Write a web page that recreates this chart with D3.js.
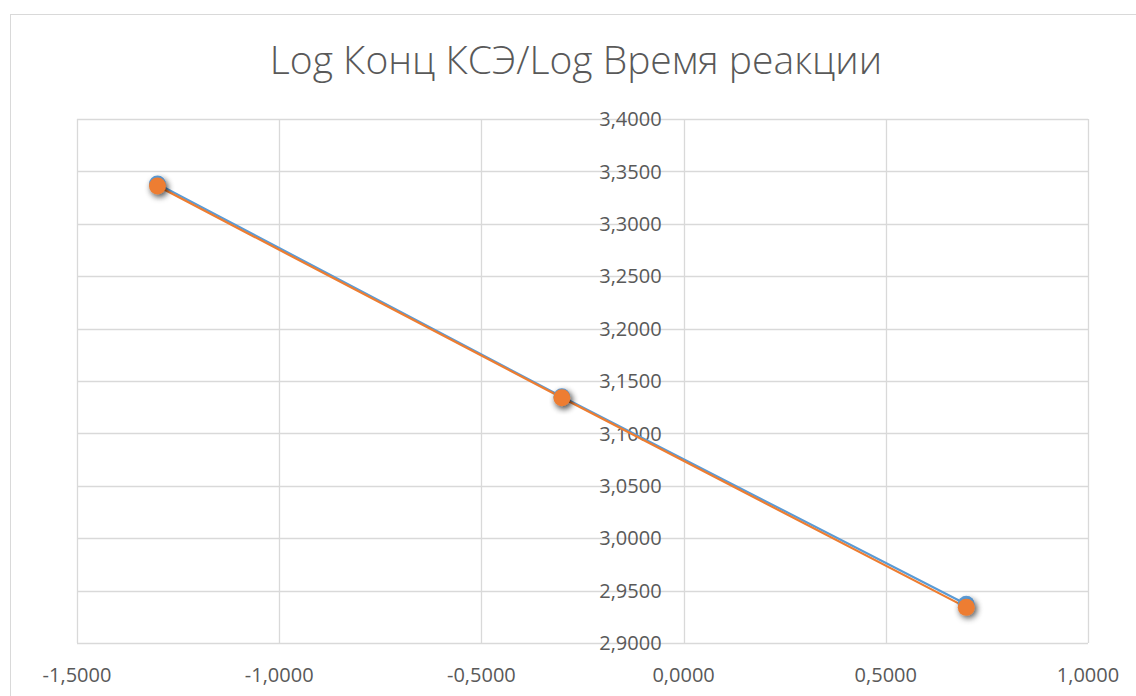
<!DOCTYPE html>
<html>
<head>
<meta charset="utf-8">
<script src="https://cdn.jsdelivr.net/npm/d3@7"></script>
<style>
  body { margin: 0; background: #fff; }
  text { font-family: "Open Sans", sans-serif; }
</style>
</head>
<body>
<div id="chart"></div>
<script>
// log concentration (x) vs log reaction time (y), two nearly identical series
const xValues = [-1.301, -0.301, 0.699];
const blueValues = [3.338, 3.135, 2.937];
const orangeValues = [3.336, 3.134, 2.934];
const xTicks = [-1.5, -1.0, -0.5, 0, 0.5, 1.0];
const yTicks = [2.9, 2.95, 3.0, 3.05, 3.1, 3.15, 3.2, 3.25, 3.3, 3.35, 3.4];
const title = "Log Конц КСЭ/Log Время реакции";

const svgWidth = 1136, svgHeight = 696;
const margin = { top: 119, right: 48, bottom: 53, left: 77 };
const width = svgWidth - margin.left - margin.right;
const height = svgHeight - margin.top - margin.bottom;

const svg = d3.select("#chart").append("svg")
    .attr("width", svgWidth)
    .attr("height", svgHeight);

svg.append("rect")
    .attr("x", 10.5).attr("y", 14.5)
    .attr("width", 1140).attr("height", 700)
    .attr("fill", "#fff")
    .attr("stroke", "#d9d9d9");

const defs = svg.append("defs");
const shadow = defs.append("filter").attr("id", "shadow")
    .attr("x", "-50%").attr("y", "-50%").attr("width", "200%").attr("height", "200%");
shadow.append("feDropShadow")
    .attr("dx", 2).attr("dy", 3).attr("stdDeviation", 3)
    .attr("flood-color", "#000").attr("flood-opacity", 0.45);

const chart = svg.append("g")
    .attr("transform", `translate(${margin.left},${margin.top})`);

const x = d3.scaleLinear().domain([-1.5, 1.0]).range([0, width]);
const y = d3.scaleLinear().domain([2.9, 3.4]).range([height, 0]);

const fmt = d => d3.format(".4f")(d).replace(".", ",").replace("−", "-");

// gridlines
chart.append("g")
    .selectAll("line.h")
    .data(yTicks)
    .join("line")
    .attr("x1", 0).attr("x2", width)
    .attr("y1", d => Math.round(y(d)) + 0.5).attr("y2", d => Math.round(y(d)) + 0.5)
    .attr("stroke", "#d9d9d9").attr("stroke-width", 1.3);

chart.append("g")
    .selectAll("line.v")
    .data(xTicks)
    .join("line")
    .attr("y1", 0).attr("y2", height)
    .attr("x1", d => Math.round(x(d)) + 0.5).attr("x2", d => Math.round(x(d)) + 0.5)
    .attr("stroke", "#d9d9d9").attr("stroke-width", 1.3);

// x tick labels
chart.append("g")
    .selectAll("text")
    .data(xTicks)
    .join("text")
    .attr("x", d => x(d))
    .attr("y", height + 39)
    .attr("text-anchor", "middle")
    .attr("font-size", "20px")
    .attr("fill", "#595959")
    .text(fmt);

// y tick labels, next to the axis at x = 0
chart.append("g")
    .selectAll("text")
    .data(yTicks)
    .join("text")
    .attr("x", x(0) - 22)
    .attr("y", d => y(d))
    .attr("dy", "0.36em")
    .attr("text-anchor", "end")
    .attr("font-size", "20px")
    .attr("fill", "#595959")
    .text(fmt);

// title
svg.append("text")
    .attr("x", 576)
    .attr("y", 74)
    .attr("text-anchor", "middle")
    .attr("font-size", "39px")
    .attr("font-weight", 300)
    .attr("fill", "#595959")
    .text(title);

const line = d3.line()
    .x((d, i) => x(xValues[i]))
    .y(d => y(d));

const series = [
    { values: blueValues, color: "#5b9bd5" },
    { values: orangeValues, color: "#ed7d31" }
];

series.forEach(function(s) {
    chart.append("path")
        .datum(s.values)
        .attr("fill", "none")
        .attr("stroke", s.color)
        .attr("stroke-width", 2.2)
        .attr("d", line);
});

series.forEach(function(s) {
    chart.append("g")
        .selectAll("circle")
        .data(s.values)
        .join("circle")
        .attr("cx", (d, i) => x(xValues[i]))
        .attr("cy", d => y(d))
        .attr("r", 8.5)
        .attr("fill", s.color)
        .attr("filter", "url(#shadow)");
});
</script>
</body>
</html>
